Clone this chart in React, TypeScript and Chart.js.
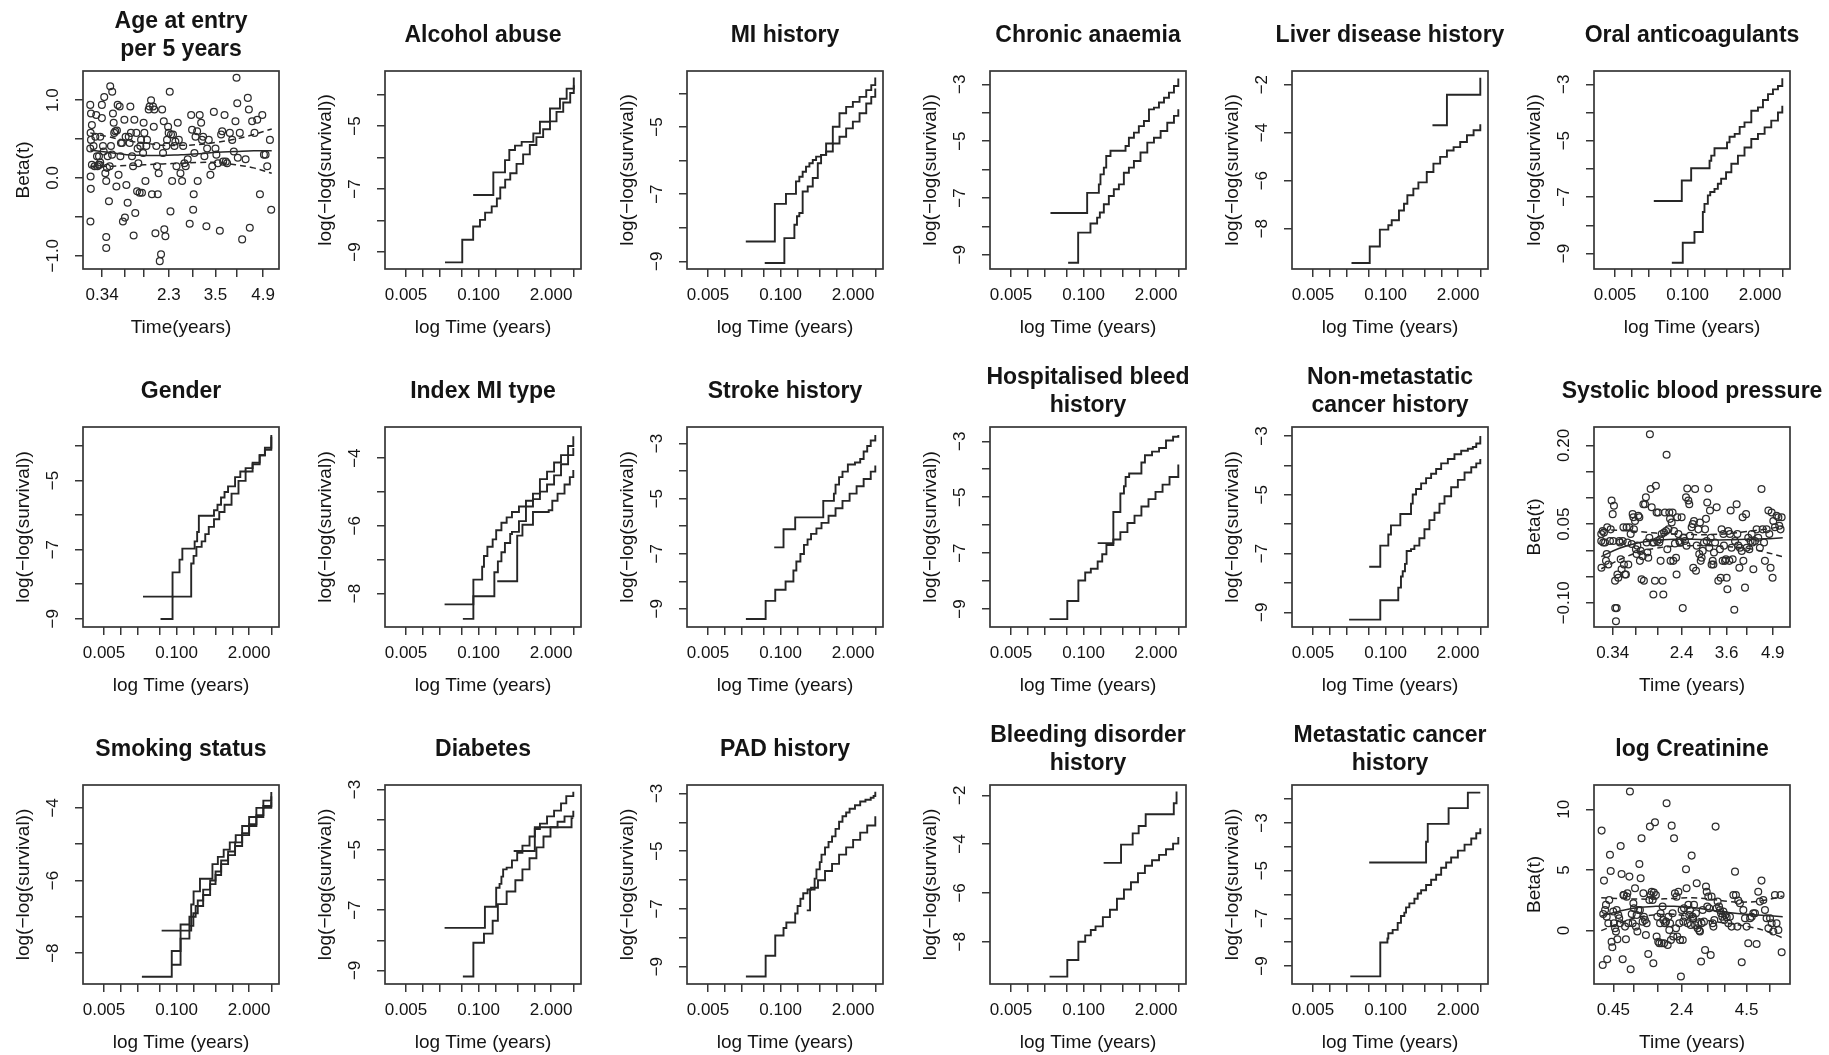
import React, { useEffect, useRef } from "react";
import { Chart, registerables } from "chart.js";

Chart.register(...registerables);

const FONT = '"Liberation Sans", Arial, Helvetica, sans-serif';
const INK = "#141414";
const LINE = "#262626";

type Pt = [number, number];

// ---------- shared log-time axis (survival panels) ----------
const logTimeTicks = [0.005, 0.01, 0.02, 0.05, 0.1, 0.2, 0.5, 1, 2, 5];
const logTimeLabels = ["0.005", "", "", "", "0.100", "", "", "", "2.000", ""];
const logTimeMin = 0.0021;
const logTimeMax = 6.87;

// ---------- y tick sets ----------
const ticks9to4 = [-9, -8, -7, -6, -5, -4];
const labels9to4 = ["−9", "", "−7", "", "−5", ""];
const ticks9to3 = [-9, -8, -7, -6, -5, -4, -3];
const labels9to3 = ["−9", "", "−7", "", "−5", "", "−3"];
const ticks8to4 = [-8, -7, -6, -5, -4];
const labels8to4 = ["−8", "", "−6", "", "−4"];
const ticksEven = [-8, -6, -4, -2];
const labelsEven = ["−8", "−6", "−4", "−2"];
const ticks9to2 = [-9, -8, -7, -6, -5, -4, -3, -2];
const labels9to2 = ["−9", "", "−7", "", "−5", "", "−3", ""];

// ---------- survival curves: [time (years), log(-log(survival))] ----------
const alcohol1: Pt[] = [[0.025,-9.33],[0.051,-8.61],[0.08,-8.19],[0.106,-7.98],[0.131,-7.75],[0.172,-7.55],[0.213,-7.3],[0.245,-6.95],[0.3,-6.7],[0.37,-6.5],[0.48,-6.2],[0.63,-5.9],[0.83,-5.6],[1.09,-5.35],[1.44,-5.1],[1.91,-4.85],[2.5,-4.55],[3.3,-4.25],[4.4,-3.95],[5.1,-3.7]];
const alcohol2: Pt[] = [[0.08,-7.19],[0.184,-6.47],[0.298,-6.08],[0.356,-5.76],[0.45,-5.62],[0.593,-5.5],[0.96,-5.23],[1.26,-4.86],[1.91,-4.44],[2.88,-4.13],[3.8,-3.81],[5.1,-3.46]];

const mi1: Pt[] = [[0.0238,-8.41],[0.079,-7.29],[0.125,-6.99],[0.189,-6.62],[0.217,-6.48],[0.249,-6.33],[0.286,-6.18],[0.329,-6.08],[0.378,-5.98],[0.434,-5.88],[0.533,-5.83],[0.656,-5.73],[0.865,-5.49],[1.14,-5.29],[1.5,-5.04],[1.98,-4.84],[2.61,-4.59],[3.44,-4.3],[4.23,-4.1],[4.99,-3.85]];
const mi2: Pt[] = [[0.052,-9.05],[0.117,-8.31],[0.177,-7.91],[0.197,-7.66],[0.217,-7.56],[0.249,-6.92],[0.307,-6.77],[0.378,-6.52],[0.465,-6.08],[0.533,-5.83],[0.656,-5.49],[0.865,-4.99],[1.14,-4.59],[1.5,-4.4],[1.98,-4.25],[2.61,-4.1],[3.44,-3.9],[4.23,-3.75],[4.99,-3.52]];

const chronic1: Pt[] = [[0.0255,-7.53],[0.116,-6.82],[0.188,-6.52],[0.201,-6.17],[0.231,-5.93],[0.255,-5.52],[0.304,-5.34],[0.566,-5.17],[0.65,-4.88],[0.8,-4.7],[0.98,-4.47],[1.21,-4.29],[1.49,-3.88],[1.83,-3.82],[2.25,-3.64],[2.77,-3.47],[3.4,-3.29],[4.18,-3.06],[5.0,-2.79]];
const chronic2: Pt[] = [[0.0529,-9.28],[0.08,-8.22],[0.133,-7.9],[0.175,-7.69],[0.196,-7.51],[0.231,-7.22],[0.284,-6.93],[0.349,-6.69],[0.43,-6.52],[0.528,-6.11],[0.65,-5.93],[0.8,-5.7],[1.05,-5.4],[1.39,-5.05],[1.83,-4.88],[2.41,-4.64],[3.17,-4.35],[4.18,-4.11],[5.0,-3.88]];

const liver1: Pt[] = [[0.0245,-9.43],[0.052,-8.74],[0.079,-8.04],[0.112,-7.86],[0.129,-7.65],[0.174,-7.24],[0.214,-6.96],[0.246,-6.61],[0.315,-6.33],[0.388,-6.07],[0.548,-5.64],[0.722,-5.29],[0.953,-5.01],[1.26,-4.74],[1.66,-4.6],[2.18,-4.39],[2.88,-4.11],[3.79,-3.9],[5.0,-3.65]];
const liver2: Pt[] = [[0.693,-3.69],[1.26,-2.42],[5.0,-1.71]];

const oral1: Pt[] = [[0.0248,-7.14],[0.0788,-6.41],[0.116,-5.98],[0.248,-5.71],[0.266,-5.53],[0.304,-5.27],[0.51,-5.06],[0.566,-4.86],[0.7,-4.76],[0.86,-4.51],[1.05,-4.35],[1.39,-3.94],[1.83,-3.82],[2.25,-3.56],[2.77,-3.35],[3.4,-3.18],[4.18,-3.06],[5.0,-2.79]];
const oral2: Pt[] = [[0.0522,-9.33],[0.082,-8.62],[0.133,-8.24],[0.188,-7.53],[0.201,-7.24],[0.231,-6.94],[0.255,-6.82],[0.304,-6.71],[0.349,-6.53],[0.4,-6.35],[0.49,-6.12],[0.61,-5.82],[0.8,-5.53],[1.05,-5.24],[1.39,-4.94],[1.83,-4.76],[2.41,-4.53],[3.17,-4.29],[4.18,-4.0],[5.0,-3.76]];

const gender1: Pt[] = [[0.025,-8.36],[0.0847,-7.66],[0.113,-7.29],[0.127,-6.97],[0.211,-6.76],[0.234,-6.49],[0.251,-6.02],[0.469,-5.86],[0.542,-5.7],[0.627,-5.49],[0.725,-5.33],[0.838,-5.17],[1.12,-4.9],[1.39,-4.74],[1.73,-4.64],[2.31,-4.48],[3.09,-4.27],[3.84,-4.05],[5.0,-3.68]];
const gender2: Pt[] = [[0.0516,-9.01],[0.0847,-8.36],[0.183,-7.4],[0.202,-7.18],[0.227,-6.92],[0.282,-6.76],[0.327,-6.55],[0.378,-6.34],[0.469,-6.12],[0.583,-5.91],[0.725,-5.7],[0.968,-5.38],[1.29,-5.01],[1.73,-4.74],[2.31,-4.53],[3.09,-4.27],[3.84,-4.11],[5.0,-3.73]];

const indexMi1: Pt[] = [[0.0246,-8.32],[0.0807,-7.59],[0.116,-7.21],[0.125,-6.89],[0.144,-6.62],[0.179,-6.4],[0.207,-6.13],[0.257,-5.91],[0.319,-5.75],[0.397,-5.59],[0.53,-5.43],[0.708,-5.26],[0.946,-5.05],[1.26,-4.62],[1.69,-4.4],[2.26,-4.13],[3.01,-3.91],[4.03,-3.64],[5.0,-3.35]];
const indexMi2: Pt[] = [[0.0523,-8.75],[0.0807,-8.08],[0.192,-7.37],[0.222,-7.05],[0.257,-6.78],[0.297,-6.51],[0.369,-6.24],[0.397,-6.18],[0.53,-5.86],[0.708,-5.43],[0.946,-5.21],[1.26,-4.99],[1.69,-4.78],[2.26,-4.51],[3.01,-4.18],[4.03,-3.91],[5.0,-3.7]];
const indexMi3: Pt[] = [[0.216,-7.64],[0.493,-6.29],[0.612,-5.97],[0.946,-5.59],[1.81,-5.54],[2.1,-5.26],[2.61,-5.05],[3.48,-4.78],[4.33,-4.56],[5.0,-4.35]];

const stroke1: Pt[] = [[0.0769,-6.77],[0.113,-6.11],[0.183,-5.68],[0.583,-5.08],[0.905,-4.82],[0.968,-4.49],[1.12,-4.22],[1.29,-4.02],[1.61,-3.76],[2.16,-3.69],[2.68,-3.56],[3.09,-3.29],[3.58,-3.09],[4.14,-2.89],[5.0,-2.69]];
const stroke2: Pt[] = [[0.0239,-9.37],[0.054,-8.71],[0.0803,-8.31],[0.123,-8.01],[0.17,-7.61],[0.192,-7.28],[0.227,-7.01],[0.263,-6.68],[0.305,-6.48],[0.352,-6.28],[0.44,-6.08],[0.542,-5.88],[0.725,-5.62],[0.968,-5.35],[1.29,-5.08],[1.73,-4.82],[2.31,-4.55],[3.09,-4.29],[4.14,-4.02],[5.0,-3.8]];

const hosp1: Pt[] = [[0.179,-6.64],[0.342,-5.53],[0.457,-4.87],[0.53,-4.61],[0.568,-4.28],[0.657,-4.15],[1.09,-3.76],[1.26,-3.5],[1.69,-3.37],[2.26,-3.24],[3.01,-2.97],[4.03,-2.84],[5.0,-2.78]];
const hosp2: Pt[] = [[0.0246,-9.36],[0.0511,-8.71],[0.0807,-7.98],[0.107,-7.69],[0.135,-7.56],[0.179,-7.3],[0.216,-7.04],[0.257,-6.71],[0.342,-6.51],[0.457,-6.25],[0.612,-5.92],[0.82,-5.66],[1.09,-5.33],[1.46,-5.07],[1.95,-4.81],[2.61,-4.55],[3.48,-4.28],[5.0,-3.83]];

const nonmet1: Pt[] = [[0.0509,-7.45],[0.0804,-6.73],[0.112,-6.35],[0.125,-6.04],[0.184,-5.65],[0.286,-5.3],[0.307,-4.99],[0.352,-4.8],[0.434,-4.61],[0.533,-4.43],[0.656,-4.28],[0.807,-4.12],[0.993,-3.93],[1.31,-3.78],[1.72,-3.62],[2.27,-3.5],[2.99,-3.43],[3.68,-3.37],[4.23,-3.25],[5.0,-3.0]];
const nonmet2: Pt[] = [[0.0222,-9.25],[0.0804,-8.59],[0.169,-8.16],[0.189,-7.78],[0.203,-7.6],[0.223,-7.35],[0.239,-6.91],[0.286,-6.85],[0.329,-6.73],[0.404,-6.48],[0.498,-6.17],[0.612,-5.86],[0.753,-5.61],[0.927,-5.3],[1.14,-5.05],[1.5,-4.74],[1.98,-4.49],[2.61,-4.24],[3.44,-4.06],[4.23,-3.93],[5.0,-3.78]];

const smoking1: Pt[] = [[0.0239,-8.65],[0.082,-7.94],[0.118,-7.6],[0.17,-7.25],[0.2,-6.9],[0.24,-6.55],[0.3,-6.25],[0.4,-6.0],[0.5,-5.75],[0.63,-5.45],[0.84,-5.2],[1.12,-4.95],[1.5,-4.7],[2.0,-4.45],[2.7,-4.2],[3.6,-4.0],[5.0,-3.83]];
const smoking2: Pt[] = [[0.054,-7.38],[0.183,-6.66],[0.202,-6.3],[0.263,-5.95],[0.44,-5.55],[0.55,-5.35],[0.7,-5.15],[0.9,-4.95],[1.15,-4.75],[1.5,-4.5],[2.0,-4.25],[2.7,-4.0],[3.6,-3.8],[5.0,-3.56]];
const smoking3: Pt[] = [[0.082,-8.32],[0.118,-7.21],[0.17,-7.0],[0.22,-6.7],[0.3,-6.4],[0.4,-6.1],[0.5,-5.85],[0.63,-5.55],[0.84,-5.3],[1.12,-5.05],[1.5,-4.75],[2.0,-4.5],[2.7,-4.25],[3.6,-3.95],[5.0,-3.68]];

const diabetes1: Pt[] = [[0.0246,-7.59],[0.13,-6.89],[0.207,-6.26],[0.238,-6.13],[0.257,-5.89],[0.276,-5.65],[0.319,-5.59],[0.397,-5.35],[0.493,-5.1],[0.612,-4.86],[0.82,-4.56],[1.02,-4.31],[1.26,-4.13],[1.69,-3.89],[2.26,-3.7],[3.01,-3.46],[3.74,-3.22],[5.0,-3.07]];
const diabetes2: Pt[] = [[0.0523,-9.2],[0.0807,-8.08],[0.125,-7.78],[0.179,-7.35],[0.222,-6.8],[0.319,-6.38],[0.457,-6.01],[0.612,-5.65],[0.82,-5.28],[1.09,-4.92],[1.46,-4.56],[1.95,-4.25],[2.61,-4.07],[3.48,-3.89],[5.0,-3.7]];
const diabetes3: Pt[] = [[0.426,-5.04],[1.02,-4.25],[4.65,-3.95],[5.0,-3.95]];

const pad1: Pt[] = [[0.0239,-9.34],[0.054,-8.62],[0.0803,-7.92],[0.113,-7.66],[0.127,-7.47],[0.183,-7.16],[0.202,-6.9],[0.227,-6.65],[0.255,-6.46],[0.305,-6.33],[0.352,-6.27],[0.469,-6.01],[0.627,-5.69],[0.838,-5.44],[1.12,-5.12],[1.5,-4.87],[2.0,-4.61],[2.68,-4.36],[3.58,-4.11],[5.0,-3.79]];
const pad2: Pt[] = [[0.295,-7.05],[0.338,-6.33],[0.408,-5.95],[0.44,-5.63],[0.505,-5.38],[0.542,-5.12],[0.627,-4.87],[0.725,-4.68],[0.838,-4.49],[0.968,-4.23],[1.12,-3.98],[1.29,-3.79],[1.5,-3.66],[1.73,-3.53],[2.16,-3.41],[2.68,-3.28],[3.33,-3.22],[4.14,-3.15],[4.66,-3.09],[5.0,-2.94]];

const bleed1: Pt[] = [[0.229,-4.77],[0.47,-4.02],[0.76,-3.56],[0.973,-3.26],[1.3,-2.78],[4.15,-2.33],[4.65,-1.85]];
const bleed2: Pt[] = [[0.0246,-9.43],[0.0511,-8.75],[0.0807,-8.0],[0.107,-7.74],[0.135,-7.52],[0.164,-7.37],[0.222,-6.99],[0.297,-6.69],[0.397,-6.24],[0.53,-5.86],[0.708,-5.56],[0.946,-5.19],[1.26,-4.89],[1.69,-4.66],[2.26,-4.44],[3.01,-4.21],[4.03,-3.98],[5.0,-3.71]];

const meta1: Pt[] = [[0.0509,-4.66],[0.533,-3.79],[0.571,-3.04],[1.35,-2.38],[2.99,-1.73],[5.0,-1.73]];
const meta2: Pt[] = [[0.0233,-9.43],[0.0804,-8.01],[0.108,-7.84],[0.112,-7.62],[0.134,-7.48],[0.165,-7.19],[0.189,-6.9],[0.217,-6.76],[0.233,-6.54],[0.267,-6.37],[0.329,-6.18],[0.377,-5.96],[0.434,-5.82],[0.533,-5.6],[0.656,-5.38],[0.807,-5.17],[0.993,-4.88],[1.22,-4.66],[1.5,-4.45],[1.98,-4.16],[2.61,-3.91],[3.44,-3.65],[4.23,-3.43],[5.0,-3.22]];

// ---------- Schoenfeld residual panels (x = transformed time, 0..1) ----------
const fitGrid = [0, 0.1, 0.2, 0.3, 0.4, 0.5, 0.6, 0.7, 0.8, 0.9, 1.0];

const ageX = [0.0,0.004,0.002,0.009,0.004,0.0,0.009,0.002,0.003,0.001,0.018,0.024,0.028,0.033,0.037,0.040,0.046,0.052,0.055,0.048,0.055,0.064,0.064,0.070,0.074,0.077,0.083,0.088,0.088,0.088,0.092,0.096,0.103,0.107,0.110,0.114,0.120,0.121,0.125,0.129,0.132,0.138,0.144,0.147,0.151,0.156,0.162,0.166,0.169,0.175,0.180,0.188,0.191,0.195,0.199,0.206,0.212,0.217,0.221,0.224,0.230,0.236,0.239,0.243,0.248,0.254,0.258,0.261,0.265,0.272,0.276,0.280,0.285,0.291,0.294,0.298,0.304,0.309,0.313,0.322,0.327,0.335,0.340,0.346,0.350,0.353,0.359,0.364,0.368,0.372,0.377,0.383,0.390,0.396,0.401,0.405,0.408,0.414,0.420,0.423,0.429,0.432,0.438,0.442,0.445,0.451,0.456,0.464,0.469,0.475,0.482,0.488,0.497,0.506,0.512,0.519,0.526,0.537,0.548,0.556,0.561,0.567,0.570,0.574,0.580,0.589,0.592,0.603,0.611,0.616,0.622,0.629,0.640,0.644,0.653,0.662,0.672,0.681,0.690,0.695,0.703,0.714,0.721,0.727,0.732,0.740,0.747,0.754,0.769,0.782,0.791,0.800,0.806,0.810,0.813,0.824,0.837,0.856,0.868,0.874,0.879,0.892,0.905,0.920,0.935,0.948,0.957,0.966,0.975,0.990,0.997];
const ageY = [0.94,0.83,0.58,0.68,0.49,0.38,0.17,0.02,-0.14,-0.56,0.41,0.15,0.53,0.81,0.28,0.15,0.17,0.17,0.20,0.28,0.53,0.94,0.77,0.41,0.34,1.04,0.06,-0.04,-0.76,-0.90,0.13,0.28,-0.30,0.15,1.18,0.41,0.30,1.11,0.83,0.71,0.58,0.60,-0.11,0.61,0.94,0.04,0.92,0.28,0.45,0.45,-0.56,0.75,-0.51,0.53,-0.09,-0.32,0.53,0.45,0.92,0.58,0.28,0.15,-0.74,0.75,-0.45,0.58,-0.17,0.38,0.19,-0.19,0.41,0.49,-0.19,0.32,0.71,0.58,-0.04,0.41,0.49,0.88,0.92,1.00,-0.21,0.92,0.66,0.88,-0.71,0.41,0.15,-0.21,0.06,-1.07,-0.98,0.88,0.32,0.73,-0.66,-0.75,0.41,0.49,0.66,0.58,1.11,-0.43,0.56,-0.04,0.56,0.41,0.47,0.15,0.71,0.49,0.06,-0.04,0.41,0.19,0.15,0.24,-0.59,0.81,0.62,-0.41,-0.21,0.32,0.53,0.60,-0.04,0.81,0.71,0.49,0.53,0.28,-0.62,0.38,0.49,0.04,0.15,0.85,0.38,0.30,0.19,-0.68,0.56,0.60,0.21,0.81,0.21,0.19,0.58,0.49,0.34,0.73,1.29,0.96,0.26,0.58,-0.79,0.24,1.03,0.88,-0.64,0.73,0.58,0.75,-0.21,0.81,0.30,0.30,0.15,0.49,-0.41];
const ageFit = [0.36,0.33,0.30,0.29,0.29,0.30,0.31,0.33,0.34,0.35,0.35];
const ageUpper = [0.58,0.53,0.48,0.45,0.42,0.42,0.43,0.46,0.50,0.56,0.63];
const ageLower = [0.15,0.15,0.16,0.17,0.18,0.19,0.20,0.20,0.17,0.13,0.06];
const ageTimeTicks = [0.065,0.188,0.295,0.433,0.562,0.690,0.805,0.952];
const ageTimeLabels = ["0.34","","","2.3","","3.5","","4.9"];

const sbpX = [0.0,0.0,0.001,0.008,0.011,0.015,0.021,0.026,0.030,0.033,0.039,0.048,0.052,0.057,0.063,0.066,0.070,0.076,0.077,0.081,0.085,0.089,0.094,0.099,0.103,0.107,0.112,0.118,0.122,0.125,0.131,0.136,0.140,0.145,0.149,0.155,0.162,0.168,0.173,0.177,0.180,0.186,0.191,0.195,0.199,0.204,0.210,0.213,0.217,0.222,0.228,0.232,0.235,0.241,0.246,0.250,0.254,0.259,0.265,0.268,0.272,0.278,0.283,0.287,0.290,0.296,0.301,0.305,0.309,0.314,0.320,0.324,0.327,0.333,0.338,0.342,0.346,0.351,0.357,0.360,0.364,0.370,0.375,0.379,0.382,0.388,0.393,0.397,0.401,0.406,0.412,0.415,0.419,0.425,0.430,0.434,0.443,0.449,0.452,0.461,0.467,0.470,0.474,0.480,0.485,0.489,0.498,0.504,0.507,0.511,0.517,0.522,0.526,0.535,0.540,0.544,0.548,0.553,0.559,0.566,0.572,0.577,0.581,0.584,0.590,0.595,0.599,0.603,0.608,0.614,0.618,0.621,0.627,0.636,0.645,0.654,0.658,0.663,0.669,0.673,0.676,0.682,0.687,0.691,0.695,0.700,0.706,0.709,0.713,0.718,0.724,0.733,0.737,0.746,0.750,0.755,0.761,0.764,0.774,0.779,0.783,0.792,0.798,0.801,0.810,0.816,0.823,0.829,0.834,0.838,0.847,0.856,0.865,0.874,0.883,0.889,0.897,0.902,0.911,0.921,0.926,0.933,0.939,0.944,0.948,0.957,0.966,0.976,0.981,0.988,0.994];
const sbpY = [0.031,0.018,-0.033,0.037,0.015,0.034,0.015,-0.020,-0.007,0.044,-0.027,0.018,0.040,0.095,0.069,0.018,0.085,-0.058,-0.110,-0.135,-0.110,-0.046,-0.052,0.018,0.015,-0.017,-0.036,0.018,0.044,-0.027,-0.046,-0.046,0.044,0.015,-0.027,0.044,0.031,0.012,0.069,0.063,0.040,0.056,0.002,-0.007,0.009,0.066,0.063,-0.020,-0.001,-0.055,-0.011,0.088,-0.058,0.088,0.101,0.015,-0.004,-0.014,0.024,0.221,0.117,0.082,0.015,-0.084,0.015,-0.058,0.123,0.072,0.018,0.072,0.015,0.021,-0.020,0.031,-0.058,-0.084,0.034,0.072,0.037,0.182,0.002,0.040,0.072,0.060,-0.020,0.053,0.072,-0.020,0.037,0.013,-0.014,-0.046,0.063,0.031,0.018,0.015,0.063,-0.110,0.024,0.018,0.101,0.009,0.118,0.095,0.088,0.028,0.044,0.050,-0.033,0.056,0.117,-0.039,0.009,0.040,-0.007,0.053,-0.020,-0.014,-0.001,0.015,0.040,0.060,0.018,0.091,0.118,0.005,0.076,0.024,-0.027,-0.020,-0.027,-0.004,0.015,0.082,-0.058,0.002,-0.052,0.040,-0.020,0.031,0.009,-0.020,-0.017,-0.052,-0.074,0.037,-0.020,0.031,0.076,0.005,-0.017,-0.113,0.018,0.088,0.031,0.009,-0.033,0.005,-0.001,0.063,-0.020,-0.071,0.069,0.005,0.024,0.002,0.018,0.031,0.015,-0.036,0.018,0.040,0.024,0.005,0.117,0.040,0.015,-0.020,0.040,0.076,0.031,-0.033,0.072,-0.052,0.056,0.044,0.066,0.063,0.047,0.040,0.063];
const sbpFit = [-0.012,0.004,0.014,0.019,0.021,0.021,0.020,0.020,0.021,0.022,0.024];
const sbpUpper = [0.040,0.038,0.036,0.033,0.031,0.030,0.030,0.032,0.036,0.040,0.046];
const sbpLower = [-0.035,-0.018,-0.004,0.004,0.008,0.009,0.009,0.007,0.004,-0.003,-0.012];
const sbpTimeTicks = [0.063,0.191,0.311,0.443,0.596,0.691,0.801,0.945];
const sbpTimeLabels = ["0.34","","","2.4","","3.6","","4.9"];

const creX = [0.002,0.008,0.011,0.015,0.021,0.026,0.030,0.033,0.039,0.044,0.048,0.052,0.057,0.061,0.066,0.070,0.076,0.081,0.085,0.089,0.094,0.099,0.103,0.107,0.112,0.118,0.122,0.125,0.131,0.136,0.140,0.144,0.149,0.155,0.158,0.162,0.168,0.173,0.177,0.180,0.186,0.191,0.195,0.199,0.204,0.210,0.213,0.217,0.222,0.228,0.232,0.235,0.241,0.246,0.250,0.259,0.265,0.268,0.272,0.278,0.283,0.287,0.290,0.296,0.301,0.305,0.309,0.314,0.320,0.324,0.327,0.333,0.338,0.342,0.346,0.351,0.357,0.360,0.366,0.370,0.375,0.379,0.384,0.388,0.393,0.397,0.401,0.406,0.412,0.415,0.419,0.425,0.430,0.434,0.439,0.443,0.449,0.452,0.456,0.461,0.467,0.470,0.476,0.480,0.485,0.489,0.493,0.498,0.504,0.507,0.511,0.517,0.522,0.526,0.531,0.535,0.540,0.544,0.550,0.553,0.559,0.566,0.572,0.577,0.581,0.584,0.590,0.595,0.603,0.608,0.614,0.618,0.623,0.630,0.636,0.641,0.649,0.654,0.660,0.667,0.673,0.678,0.684,0.691,0.700,0.709,0.718,0.728,0.737,0.742,0.750,0.755,0.764,0.774,0.783,0.792,0.801,0.810,0.820,0.829,0.838,0.847,0.856,0.865,0.874,0.883,0.893,0.902,0.911,0.921,0.930,0.939,0.948,0.957,0.966,0.976,0.988,0.994];
const creY = [8.24,-2.83,1.37,4.12,1.70,2.12,1.15,-2.36,0.60,2.53,6.26,4.92,-0.91,-1.37,1.57,0.60,0.19,-0.08,1.70,-0.71,1.29,1.02,0.60,6.98,4.67,-2.36,2.94,2.94,0.33,-0.71,2.80,3.08,0.60,4.45,11.46,-3.19,1.37,0.60,2.25,1.84,3.49,0.33,1.29,-0.08,1.70,5.49,1.70,4.31,7.61,0.74,3.08,1.15,0.88,-0.36,0.60,-1.92,2.53,8.57,2.94,3.21,2.53,-2.69,3.13,8.93,2.94,-0.49,1.15,-0.91,-1.04,0.60,1.43,-1.04,1.98,0.88,-1.04,0.60,0.74,10.49,-1.18,1.15,0.05,0.60,-0.77,8.65,1.43,-0.49,7.61,3.08,0.19,2.80,-0.49,3.21,0.60,-0.77,-3.79,1.70,-0.77,0.74,1.84,1.15,5.05,3.49,0.60,2.12,1.29,1.70,0.47,6.18,1.15,1.02,2.12,0.47,1.43,3.90,0.19,0.60,0.0,-0.08,-2.55,0.60,1.70,0.74,-1.59,3.63,3.21,1.98,2.80,1.84,-2.01,2.80,0.60,0.33,0.88,8.57,1.84,2.39,1.98,1.70,1.43,1.15,1.57,0.88,1.29,1.10,0.60,1.15,0.33,2.94,4.86,2.94,0.33,2.47,2.25,-2.61,1.70,1.02,0.33,-1.04,1.02,1.15,1.43,1.43,-1.10,3.21,2.39,4.12,2.53,1.70,1.02,0.19,1.02,0.60,-0.08,2.94,0.60,0.05,2.94,-1.79];
const creFit = [1.2,1.6,1.9,2.0,2.0,1.9,1.7,1.5,1.35,1.25,1.15];
const creUpper = [2.7,2.65,2.6,2.6,2.65,2.7,2.6,2.4,2.35,2.5,2.85];
const creLower = [0.0,0.6,1.1,1.3,1.35,1.1,0.8,0.6,0.35,0.0,-0.6];
const creTimeTicks = [0.0665,0.177,0.311,0.443,0.586,0.678,0.801,0.926];
const creTimeLabels = ["0.45","","","2.4","","","4.5",""];

// ---------- layout of the 3 x 6 grid ----------
const colLeft = [83, 385, 687, 990, 1292, 1594];
const rowTop = [71, 427, 785];
const rowHeight = [198, 200, 199];
const BOX_W = 196;
const CANVAS_W = 330;
const AXIS_LEFT = 83;
const AXIS_BOTTOM = 80;
const TOP_PAD = 71;

interface PanelSpec {
  title: string[];
  kind: "km" | "zph";
  curves?: Pt[][];
  px?: number[];
  py?: number[];
  fit?: number[];
  upper?: number[];
  lower?: number[];
  xTicks: number[];
  xLabels: string[];
  xTitle: string;
  yTitle: string;
  yMin: number;
  yMax: number;
  yTicks: number[];
  yLabels: string[];
}

const KM_Y = "log(−log(survival))";
const KM_X = "log Time (years)";

function km(title: string[], curves: Pt[][], yMin: number, yMax: number, yTicks: number[], yLabels: string[]): PanelSpec {
  return { title, kind: "km", curves, xTicks: logTimeTicks, xLabels: logTimeLabels, xTitle: KM_X, yTitle: KM_Y, yMin, yMax, yTicks, yLabels };
}

const panels: PanelSpec[] = [
  { title: ["Age at entry", "per 5 years"], kind: "zph", px: ageX, py: ageY, fit: ageFit, upper: ageUpper, lower: ageLower, xTicks: ageTimeTicks, xLabels: ageTimeLabels, xTitle: "Time(years)", yTitle: "Beta(t)", yMin: -1.171, yMax: 1.376, yTicks: [-1, -0.5, 0, 0.5, 1], yLabels: ["−1.0", "", "0.0", "", "1.0"] },
  km(["Alcohol abuse"], [alcohol1, alcohol2], -9.54, -3.25, ticks9to4, labels9to4),
  km(["MI history"], [mi1, mi2], -9.23, -3.33, ticks9to4, labels9to4),
  km(["Chronic anaemia"], [chronic1, chronic2], -9.5, -2.53, ticks9to3, labels9to3),
  km(["Liver disease history"], [liver1, liver2], -9.68, -1.43, ticksEven, labelsEven),
  km(["Oral anticoagulants"], [oral1, oral2], -9.55, -2.53, ticks9to3, labels9to3),

  km(["Gender"], [gender1, gender2], -9.24, -3.45, ticks9to4, labels9to4),
  km(["Index MI type"], [indexMi1, indexMi2, indexMi3], -8.99, -3.08, ticks8to4, labels8to4),
  km(["Stroke history"], [stroke1, stroke2], -9.66, -2.4, ticks9to3, labels9to3),
  km(["Hospitalised bleed", "history"], [hosp1, hosp2], -9.64, -2.49, ticks9to3, labels9to3),
  km(["Non-metastatic", "cancer history"], [nonmet1, nonmet2], -9.5, -2.69, ticks9to3, labels9to3),
  { title: ["Systolic blood pressure"], kind: "zph", px: sbpX, py: sbpY, fit: sbpFit, upper: sbpUpper, lower: sbpLower, xTicks: sbpTimeTicks, xLabels: sbpTimeLabels, xTitle: "Time (years)", yTitle: "Beta(t)", yMin: -0.146, yMax: 0.235, yTicks: [-0.1, -0.05, 0, 0.05, 0.1, 0.15, 0.2], yLabels: ["−0.10", "", "", "0.05", "", "", "0.20"] },

  km(["Smoking status"], [smoking1, smoking2, smoking3], -8.85, -3.37, ticks8to4, labels8to4),
  km(["Diabetes"], [diabetes1, diabetes2, diabetes3], -9.45, -2.85, ticks9to3, labels9to3),
  km(["PAD history"], [pad1, pad2], -9.6, -2.71, ticks9to3, labels9to3),
  km(["Bleeding disorder", "history"], [bleed1, bleed2], -9.73, -1.58, ticksEven, labelsEven),
  km(["Metastatic cancer", "history"], [meta1, meta2], -9.75, -1.41, ticks9to2, labels9to2),
  { title: ["log Creatinine"], kind: "zph", px: creX, py: creY, fit: creFit, upper: creUpper, lower: creLower, xTicks: creTimeTicks, xLabels: creTimeLabels, xTitle: "Time (years)", yTitle: "Beta(t)", yMin: -4.4, yMax: 12.0, yTicks: [0, 5, 10], yLabels: ["0", "5", "10"] },
];

function makeDecor(spec: PanelSpec) {
  return {
    id: "panelDecor",
    afterDraw(chart: any) {
      const { ctx, chartArea: a } = chart;
      const ys = chart.scales.y;
      ctx.save();
      ctx.strokeStyle = "#363636";
      ctx.lineWidth = 1.7;
      ctx.strokeRect(a.left, a.top, a.right - a.left, a.bottom - a.top);
      ctx.fillStyle = INK;
      ctx.textAlign = "center";
      ctx.textBaseline = "middle";
      ctx.font = `bold 23px ${FONT}`;
      const cx = (a.left + a.right) / 2;
      const n = spec.title.length;
      spec.title.forEach((line, i) => {
        ctx.fillText(line, cx, a.top - 35.5 + (i - (n - 1) / 2) * 27.6);
      });
      ctx.font = `17px ${FONT}`;
      spec.yTicks.forEach((v, i) => {
        const lab = spec.yLabels[i];
        if (!lab) return;
        ctx.save();
        ctx.translate(a.left - 30, ys.getPixelForValue(v));
        ctx.rotate(-Math.PI / 2);
        ctx.fillText(lab, 0, 0);
        ctx.restore();
      });
      ctx.restore();
    },
  };
}

function buildConfig(spec: PanelSpec): any {
  const datasets: any[] = [];
  if (spec.kind === "km") {
    (spec.curves || []).forEach((c) => {
      datasets.push({
        type: "line",
        data: c.map(([x, y]) => ({ x, y })),
        stepped: "before",
        borderColor: LINE,
        borderWidth: 1.9,
        pointRadius: 0,
        fill: false,
        tension: 0,
      });
    });
  } else {
    const px = spec.px || [];
    const py = spec.py || [];
    datasets.push({
      type: "scatter",
      data: px.map((x, i) => ({ x, y: py[i] })),
      pointRadius: 3.4,
      pointBorderWidth: 1.25,
      pointBorderColor: "#2c2c2c",
      pointBackgroundColor: "rgba(0,0,0,0)",
      showLine: false,
    });
    const mk = (vals: number[], dash: number[]) => ({
      type: "line",
      data: fitGrid.map((x, i) => ({ x, y: vals[i] })),
      borderColor: "#262626",
      borderWidth: 1.5,
      borderDash: dash,
      pointRadius: 0,
      fill: false,
      tension: 0.4,
    });
    datasets.push(mk(spec.fit || [], []));
    datasets.push(mk(spec.upper || [], [6, 4]));
    datasets.push(mk(spec.lower || [], [6, 4]));
  }
  const grid = { display: true, drawOnChartArea: false, drawTicks: true, tickLength: 8, color: "#363636", lineWidth: 1.5 };
  const isKM = spec.kind === "km";
  return {
    type: "line",
    data: { datasets },
    plugins: [makeDecor(spec)],
    options: {
      responsive: false,
      animation: false,
      events: [],
      layout: { padding: { left: 0, top: TOP_PAD, right: CANVAS_W - AXIS_LEFT - BOX_W, bottom: 0 } },
      plugins: { legend: { display: false }, tooltip: { enabled: false }, title: { display: false } },
      scales: {
        x: {
          type: isKM ? "logarithmic" : "linear",
          min: isKM ? logTimeMin : -0.04,
          max: isKM ? logTimeMax : 1.04,
          afterBuildTicks: (s: any) => {
            s.ticks = spec.xTicks.map((v) => ({ value: v }));
          },
          afterFit: (s: any) => {
            s.height = AXIS_BOTTOM;
          },
          ticks: {
            autoSkip: false,
            maxRotation: 0,
            minRotation: 0,
            padding: 8,
            color: INK,
            font: { size: 17, family: FONT },
            callback: (_v: any, i: number) => spec.xLabels[i],
          },
          grid,
          border: { display: false },
          title: { display: true, text: spec.xTitle, color: INK, font: { size: 19, family: FONT }, padding: { top: 0, bottom: 10 } },
        },
        y: {
          type: "linear",
          min: spec.yMin,
          max: spec.yMax,
          afterBuildTicks: (s: any) => {
            s.ticks = spec.yTicks.map((v) => ({ value: v }));
          },
          afterFit: (s: any) => {
            s.width = AXIS_LEFT;
          },
          ticks: { callback: () => "", padding: 0 },
          grid,
          border: { display: false },
          title: { display: true, text: spec.yTitle, color: INK, font: { size: 19, family: FONT }, padding: { top: 12, bottom: 0 } },
        },
      },
    },
  };
}

function Panel({ spec, left, top, boxH }: { spec: PanelSpec; left: number; top: number; boxH: number }) {
  const ref = useRef<HTMLCanvasElement | null>(null);
  const h = TOP_PAD + boxH + AXIS_BOTTOM;
  useEffect(() => {
    if (!ref.current) return;
    const chart = new Chart(ref.current, buildConfig(spec));
    return () => chart.destroy();
  }, [spec, boxH]);
  return (
    <div style={{ position: "absolute", left, top, width: CANVAS_W, height: h }}>
      <canvas ref={ref} width={CANVAS_W} height={h} style={{ display: "block" }} />
    </div>
  );
}

export default function App() {
  return (
    <div style={{ position: "fixed", left: 0, top: 0, width: 1829, height: 1055, overflow: "hidden", background: "#ffffff" }}>
      {panels.map((spec, i) => {
        const r = Math.floor(i / 6);
        const c = i % 6;
        return (
          <Panel
            key={i}
            spec={spec}
            left={colLeft[c] - AXIS_LEFT}
            top={rowTop[r] - TOP_PAD}
            boxH={rowHeight[r]}
          />
        );
      })}
    </div>
  );
}
